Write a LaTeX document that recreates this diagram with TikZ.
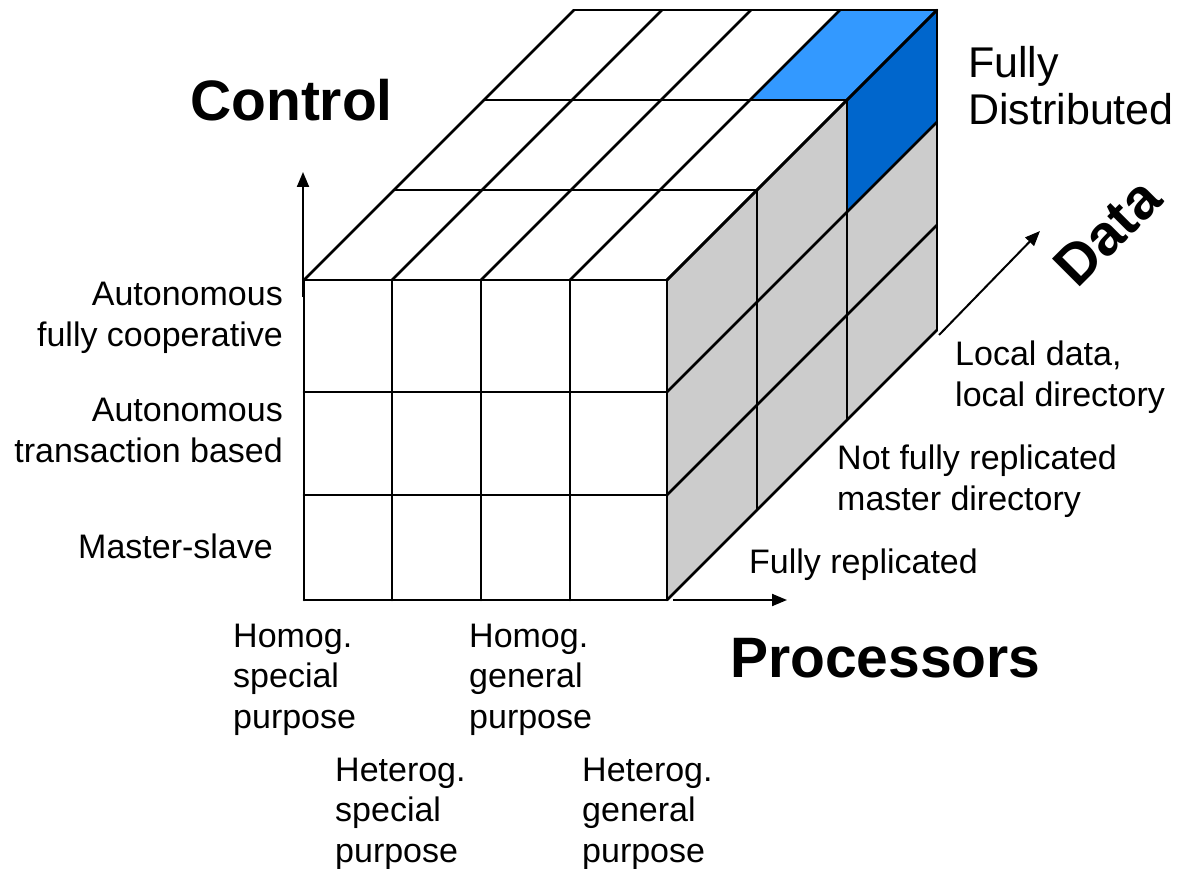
\documentclass[tikz,border=0pt]{standalone}
\usepackage{fontspec}
\setmainfont{Liberation Sans}
\usetikzlibrary{arrows.meta}
\definecolor{lblue}{HTML}{3399FF}
\definecolor{dblue}{HTML}{0066CC}
\definecolor{sidegray}{HTML}{CCCCCC}
\tikzset{
  gridline/.style={line width=2.6pt, line cap=round, draw=black},
  lbl/.style={inner sep=0pt, font=\fontsize{34}{40.5}\selectfont},
  lblbig/.style={inner sep=0pt, font=\fontsize{43}{47}\selectfont},
  axistitle/.style={inner sep=0pt, font=\fontsize{57}{60}\selectfont\bfseries},
  axisarrow/.style={line width=2pt, -{Triangle[length=15pt,width=12pt]}},
}
\begin{document}
\begin{tikzpicture}[x=1pt,y=-1pt]
\useasboundingbox (0,0) rectangle (1180,869);
% fills
\fill[sidegray] (667,280) -- (937,10) -- (937,330) -- (667,600) -- cycle;
\fill[lblue] (750,100) -- (847,100) -- (937,10) -- (840,10) -- cycle;
\fill[dblue] (847,100) -- (937,10) -- (937,122) -- (847,212) -- cycle;
% front face verticals and top-face depth lines
\foreach \x in {304,392,481,570,667} {
  \draw[gridline] (\x,280) -- (\x,600);
  \draw[gridline] (\x,280) -- ++(270,-270);
}
% front face horizontals and right-face depth lines
\foreach \y in {280,392,495,600} {
  \draw[gridline] (304,\y) -- (667,\y);
  \draw[gridline] (667,\y) -- ++(270,-270);
}
% layer lines
\foreach \k in {1,2,3} {
  \draw[gridline] (304+90*\k,280-90*\k) -- (667+90*\k,280-90*\k);
  \draw[gridline] (667+90*\k,280-90*\k) -- (667+90*\k,600-90*\k);
}
% axes
\coordinate (ctrlS) at (303,297);
\coordinate (ctrlE) at (303,172);
\coordinate (procS) at (673,600);
\coordinate (procE) at (787,600);
\coordinate (dataS) at (939,335);
\coordinate (dataE) at (1040,231);
\draw[axisarrow] (ctrlS) -- (ctrlE);
\draw[axisarrow] (procS) -- (procE);
\draw[axisarrow] (dataS) -- (dataE);
% axis titles
\node[axistitle, anchor=base west] (control) at (190,121) {Control};
\node[axistitle, anchor=base west] (processors) at (730,677) {Processors};
\node[axistitle, anchor=base west, rotate=45] (data) at (1077,290) {Data};
\node[lblbig, anchor=base west, align=left] (fulldist) at (968,125) {Fully\\Distributed};
% control labels
\node[lbl, anchor=base east, align=right] (afc) at (283,346) {Autonomous\\fully cooperative};
\node[lbl, anchor=base east, align=right] (atb) at (283,462) {Autonomous\\transaction based};
\node[lbl, anchor=base west] (ms) at (78,558) {Master-slave};
% data labels
\node[lbl, anchor=base west, align=left] (ldld) at (955,406) {Local data,\\local directory};
\node[lbl, anchor=base west, align=left] (nfr) at (837,510) {Not fully replicated\\master directory};
\node[lbl, anchor=base west] (fr) at (749,573) {Fully replicated};
% processor labels
\node[lbl, anchor=base west, align=left] (hsp) at (233,728) {Homog.\\special\\purpose};
\node[lbl, anchor=base west, align=left] (hgp) at (469,728) {Homog.\\general\\purpose};
\node[lbl, anchor=base west, align=left] (tsp) at (335,862) {Heterog.\\special\\purpose};
\node[lbl, anchor=base west, align=left] (tgp) at (582,862) {Heterog.\\general\\purpose};
\end{tikzpicture}
\end{document}
